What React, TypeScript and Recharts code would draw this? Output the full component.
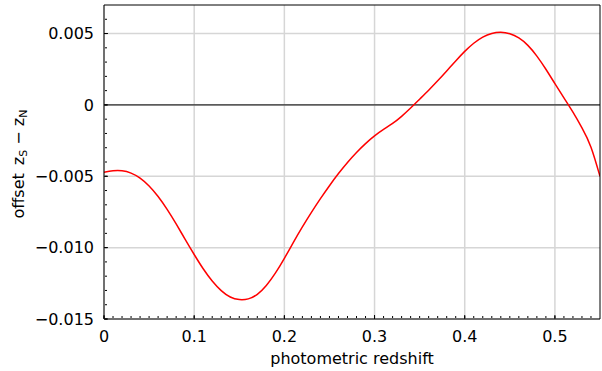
import { LineChart, Line, XAxis, YAxis, CartesianGrid, ReferenceLine } from "recharts";

// photometric redshift grid and the z_S - z_N offset at each step
const redshift = [
  0, 0.01, 0.02, 0.03, 0.04, 0.05, 0.06, 0.07, 0.08, 0.09,
  0.1, 0.11, 0.12, 0.13, 0.14, 0.15, 0.16, 0.17, 0.18, 0.19,
  0.2, 0.21, 0.22, 0.23, 0.24, 0.25, 0.26, 0.27, 0.28, 0.29,
  0.3, 0.31, 0.32, 0.33, 0.34, 0.35, 0.36, 0.37, 0.38, 0.39,
  0.4, 0.41, 0.42, 0.43, 0.44, 0.45, 0.46, 0.47, 0.48, 0.49,
  0.5, 0.51, 0.52, 0.53, 0.54, 0.55,
];
const offset = [
  -0.00472, -0.00462, -0.00462, -0.00478, -0.00513, -0.00568, -0.00642, -0.00732, -0.00834, -0.00942,
  -0.01048, -0.01148, -0.01234, -0.01301, -0.01346, -0.01364, -0.01359, -0.01327, -0.01265, -0.01179,
  -0.01075, -0.00963, -0.00855, -0.00753, -0.00657, -0.00566, -0.00481, -0.00403, -0.00333, -0.00271,
  -0.00217, -0.00172, -0.0013, -0.0008, -0.00022, 0.0004, 0.00103, 0.00169, 0.00238, 0.00308,
  0.00375, 0.00432, 0.00475, 0.00501, 0.00509, 0.00499, 0.00469, 0.00417, 0.00342, 0.0025,
  0.00149, 0.00049, -0.00051, -0.00161, -0.00296, -0.00501,
];

const xTicks = [0, 0.1, 0.2, 0.3, 0.4, 0.5];
const yTicks = [-0.015, -0.01, -0.005, 0, 0.005];

const X_DOMAIN: [number, number] = [0, 0.55];
const Y_DOMAIN: [number, number] = [-0.015, 0.007];

const xMinor = Array.from({ length: 55 }, (_, i) => +(i * 0.01).toFixed(2));
const yMinor = Array.from({ length: 22 }, (_, i) => +(-0.015 + i * 0.001).toFixed(3));

const data = redshift.map((z, i) => ({ z, v: offset[i] }));

const FONT = "DejaVu Sans, sans-serif";
const tickStyle = { fill: "#000", fontSize: 16, fontFamily: FONT };

function fmtY(v: number): string {
  if (v === 0) return "0";
  const s = Math.abs(v).toFixed(3);
  return v < 0 ? `\u2212${s}` : s;
}

function fmtX(v: number): string {
  return v === 0 ? "0" : v.toFixed(1);
}

// tick marks only, no text
const noLabel = () => <g />;

function XTitle(props: any) {
  const vb = props.viewBox ?? { x: 0, y: 0, width: 0, height: 0 };
  return (
    <text
      x={vb.x + vb.width / 2}
      y={vb.y + vb.height - 7}
      textAnchor="middle"
      fontSize={16}
      fontFamily={FONT}
      fill="#000"
    >
      photometric redshift
    </text>
  );
}

function YTitle(props: any) {
  const vb = props.viewBox ?? { x: 0, y: 0, width: 0, height: 0 };
  const cx = vb.x + 24;
  const cy = vb.y + vb.height / 2 + 2;
  return (
    <text
      x={cx}
      y={cy}
      transform={`rotate(-90, ${cx}, ${cy})`}
      textAnchor="middle"
      fontSize={16}
      fontFamily={FONT}
      fill="#000"
    >
      offset
      <tspan dx={8}>z</tspan>
      <tspan fontSize={11} dy={3}>S</tspan>
      <tspan dy={-3}> {"\u2212"} z</tspan>
      <tspan fontSize={11} dy={3}>N</tspan>
    </text>
  );
}

export default function App() {
  return (
    <div style={{ position: "absolute", left: 0, top: 0, background: "#fff" }}>
      <LineChart
        width={602}
        height={371}
        data={data}
        margin={{ top: 4, right: 1, bottom: 0, left: 0 }}
      >
        <CartesianGrid
          stroke="#d6d6d6"
          strokeWidth={1.5}
          horizontalValues={yTicks}
          verticalValues={xTicks}
        />
        <XAxis
          dataKey="z"
          type="number"
          domain={X_DOMAIN}
          ticks={xTicks}
          tickFormatter={fmtX}
          allowDataOverflow
          height={52}
          tick={tickStyle}
          tickSize={0}
          tickMargin={12}
          tickLine={false}
          axisLine={{ stroke: "#000" }}
          label={<XTitle />}
        />
        <YAxis
          type="number"
          domain={Y_DOMAIN}
          ticks={yTicks}
          tickFormatter={fmtY}
          allowDataOverflow
          width={104}
          tick={tickStyle}
          tickSize={0}
          tickMargin={10}
          tickLine={false}
          axisLine={{ stroke: "#000" }}
          label={<YTitle />}
        />
        {/* frame: top and right edges */}
        <XAxis
          xAxisId="top"
          orientation="top"
          dataKey="z"
          type="number"
          domain={X_DOMAIN}
          allowDataOverflow
          height={1}
          tick={false}
          tickLine={false}
          axisLine={{ stroke: "#000" }}
        />
        <YAxis
          yAxisId="right"
          orientation="right"
          type="number"
          domain={Y_DOMAIN}
          allowDataOverflow
          width={1}
          tick={false}
          tickLine={false}
          axisLine={{ stroke: "#000" }}
        />
        {/* inward minor and major tick marks */}
        <XAxis
          xAxisId="minor"
          dataKey="z"
          type="number"
          domain={X_DOMAIN}
          allowDataOverflow
          ticks={xMinor}
          interval={0}
          mirror
          height={1}
          tick={noLabel}
          tickSize={2}
          axisLine={false}
          tickLine={{ stroke: "#000" }}
        />
        <XAxis
          xAxisId="major"
          dataKey="z"
          type="number"
          domain={X_DOMAIN}
          allowDataOverflow
          ticks={xTicks}
          interval={0}
          mirror
          height={1}
          tick={noLabel}
          tickSize={4}
          axisLine={false}
          tickLine={{ stroke: "#000" }}
        />
        <YAxis
          yAxisId="minor"
          dataKey="v"
          type="number"
          domain={Y_DOMAIN}
          allowDataOverflow
          ticks={yMinor}
          interval={0}
          mirror
          width={1}
          tick={noLabel}
          tickSize={2}
          axisLine={false}
          tickLine={{ stroke: "#000" }}
        />
        <YAxis
          yAxisId="major"
          dataKey="v"
          type="number"
          domain={Y_DOMAIN}
          allowDataOverflow
          ticks={yTicks}
          interval={0}
          mirror
          width={1}
          tick={noLabel}
          tickSize={4}
          axisLine={false}
          tickLine={{ stroke: "#000" }}
        />
        <ReferenceLine y={0} stroke="#000" strokeWidth={1} />
        <Line
          type="natural"
          dataKey="v"
          stroke="#ff0000"
          strokeWidth={1.5}
          dot={false}
          isAnimationActive={false}
        />
      </LineChart>
    </div>
  );
}
